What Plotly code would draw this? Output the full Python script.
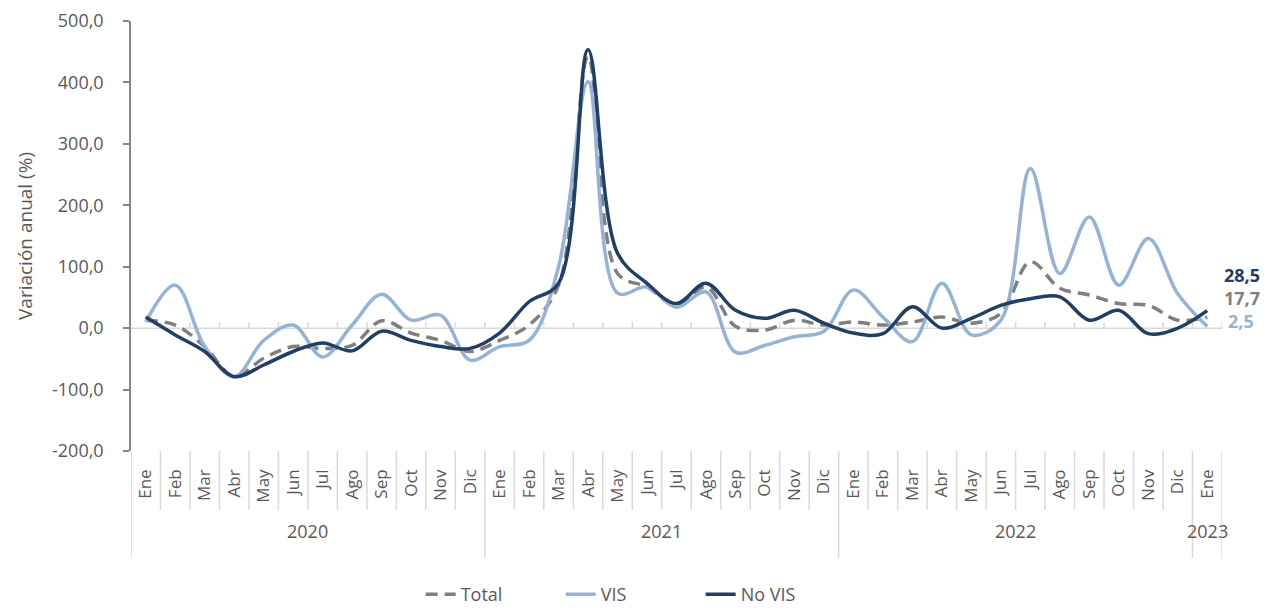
import plotly.graph_objects as go

# Variación anual (%) mensual, Ene 2020 - Ene 2023
months = ["Ene", "Feb", "Mar", "Abr", "May", "Jun",
          "Jul", "Ago", "Sep", "Oct", "Nov", "Dic"] * 3 + ["Ene"]
years = ["2020", "2021", "2022", "2023"]
y_ticks = [-200, -100, 0, 100, 200, 300, 400, 500]

total = [13, 5, -30, -79, -49, -30, -33, -28, 12, -8, -20, -38,
         -20, 5, 70, 442, 89, 67, 37, 67, 3, -3, 13, 5,
         10, 5, 10, 18, 8, 24, 108, 65, 54, 40, 37, 13,
         17.7]
vis = [10, 70, -30, -79, -20, 5, -47, 5, 55, 13, 21, -52,
       -30, -20, 100, 401, 57, 67, 34, 59, -39, -28, -14, -5,
       62, 18, -22, 73, -11, 13, 260, 89, 181, 70, 146, 56,
       2.5]
no_vis = [18, -11, -38, -79, -60, -38, -24, -37, -5, -20, -30, -33,
          -8, 43, 73, 453, 122, 73, 40, 73, 29, 16, 29, 8,
          -8, -9, 35, 0, 16, 37, 48, 51, 13, 29, -9, 0,
          28.5]

x = list(range(len(months)))
n = len(months)

FONT = "Open Sans"
TXT = "#595959"
C_TOTAL = "#7f7f7f"
C_VIS = "#95b3d7"
C_NOVIS = "#213e64"


def fmt(v):
    # decimal comma, plain hyphen for negatives
    return f"{v:.1f}".replace(".", ",")


fig = go.Figure()

fig.add_trace(go.Scatter(
    x=x, y=total, name="Total", mode="lines",
    line=dict(color=C_TOTAL, width=3.5, dash="12px,7px", shape="spline", smoothing=1)
))
fig.add_trace(go.Scatter(
    x=x, y=vis, name="VIS", mode="lines",
    line=dict(color=C_VIS, width=3.5, shape="spline", smoothing=1)
))
fig.add_trace(go.Scatter(
    x=x, y=no_vis, name="No VIS", mode="lines",
    line=dict(color=C_NOVIS, width=3.5, shape="spline", smoothing=1)
))

shapes = []
# horizontal line at 0 with small tick marks at category boundaries
shapes.append(dict(type="line", xref="x", yref="y", x0=-0.5, x1=n - 0.5, y0=0, y1=0,
                   line=dict(color="#d9d9d9", width=1.5), layer="below"))
for k in range(1, n + 1):
    shapes.append(dict(type="line", xref="x", yref="y", x0=k - 0.5, x1=k - 0.5, y0=0, y1=10,
                       line=dict(color="#d9d9d9", width=1.5), layer="below"))

# separators below the plot: months short, years long
year_bounds = [0, 12, 24, 36, 37]
for k in range(n + 1):
    long_line = k in year_bounds
    shapes.append(dict(type="line", xref="x", yref="paper", x0=k - 0.5, x1=k - 0.5,
                       y0=0, y1=-0.249 if long_line else -0.137,
                       line=dict(color="#d9d9d9", width=1.5)))

annotations = []
year_centers = [5.5, 17.5, 29.5, 36]
for yr, xc in zip(years, year_centers):
    annotations.append(dict(x=xc, y=-0.219, xref="x", yref="paper", text=yr,
                            showarrow=False, font=dict(family=FONT, size=18, color=TXT)))

# last-value labels
last_labels = [(no_vis[-1], C_NOVIS, 87, 16), (total[-1], C_TOTAL, 49, 16), (vis[-1], C_VIS, 11, 20)]
for val, col, ypos, xs in last_labels:
    annotations.append(dict(x=n - 1, y=ypos, xref="x", yref="y", xanchor="left", xshift=xs,
                            borderpad=0, text="<b>" + fmt(val) + "</b>",
                            showarrow=False, font=dict(family=FONT, size=18, color=col)))

fig.update_layout(
    width=1278, height=613,
    margin=dict(l=131, r=56, t=21, b=162),
    paper_bgcolor="white", plot_bgcolor="white",
    font=dict(family=FONT, size=17, color=TXT),
    shapes=shapes,
    annotations=annotations,
    showlegend=True,
    legend=dict(orientation="h", x=0.458, xanchor="center",
                yref="container", y=0.0, yanchor="bottom",
                entrywidth=95, entrywidthmode="pixels",
                font=dict(family=FONT, size=18, color=TXT)),
)

fig.update_xaxes(
    range=[-0.5, n - 0.5], tickmode="array", tickvals=x, ticktext=months,
    tickangle=-90, showline=False, showgrid=False, zeroline=False, ticks="",
    ticklabelstandoff=14, automargin=False,
    tickfont=dict(family=FONT, size=17, color=TXT)
)
fig.update_yaxes(
    range=[-200, 500], tickmode="array", tickvals=y_ticks,
    ticktext=[fmt(v) for v in y_ticks],
    showline=True, linecolor="#868686", linewidth=1.5,
    ticks="outside", ticklen=6, tickcolor="#868686", tickwidth=1.5,
    ticklabelstandoff=16, automargin=False,
    showgrid=False, zeroline=False,
    tickfont=dict(family=FONT, size=18, color=TXT),
    title=dict(text="Variación anual (%)", standoff=14, font=dict(family=FONT, size=19, color=TXT))
)

# page body has a default 8px margin; remove it so the figure fills the window
fig.write_html("out.html", config={"displayModeBar": False},
               post_script="document.body.style.margin='0';")
